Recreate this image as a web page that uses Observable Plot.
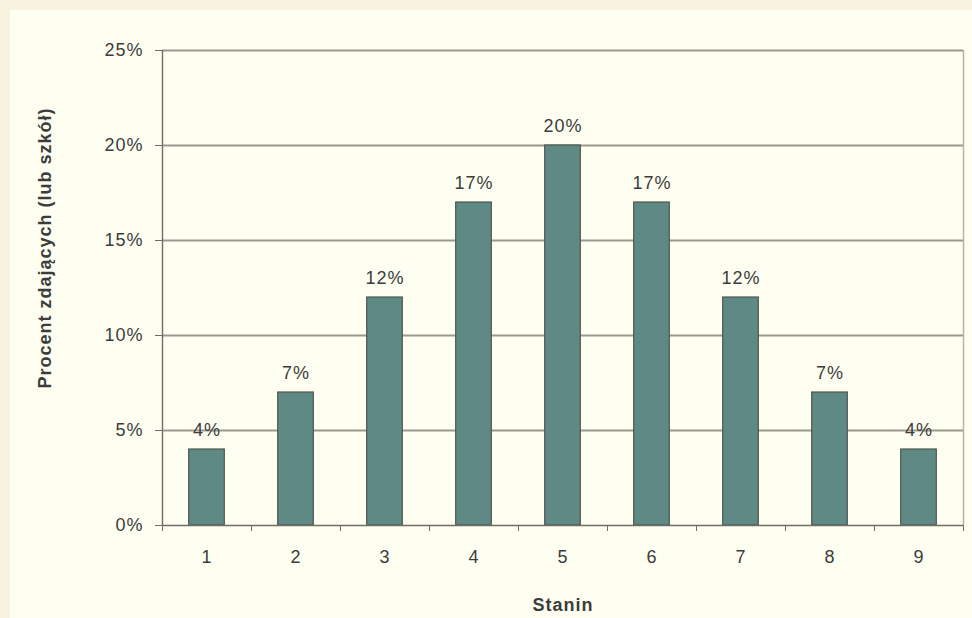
<!DOCTYPE html>
<html>
<head>
<meta charset="utf-8">
<script src="https://cdn.jsdelivr.net/npm/d3@7"></script>
<script src="https://cdn.jsdelivr.net/npm/@observablehq/plot@0.6"></script>
<style>
  html, body { margin: 0; padding: 0; background: #f8f3df; }
  #panel { position: absolute; left: 10px; top: 10px; width: 962px; height: 608px; background: #fefff0; }
  svg { font-family: "Liberation Sans", Arial, sans-serif; }
  svg text { letter-spacing: 1px; }
</style>
</head>
<body>
<div id="panel"></div>
<script>
const stanins = [1, 2, 3, 4, 5, 6, 7, 8, 9];
const percents = [4, 7, 12, 17, 20, 17, 12, 7, 4];
const yTicks = [0, 5, 10, 15, 20, 25];
const xBoundaries = [0.5, 1.5, 2.5, 3.5, 4.5, 5.5, 6.5, 7.5, 8.5, 9.5];
const xTitle = "Stanin";
const yTitle = "Procent zdających (lub szkół)";

const data = stanins.map((s, i) => ({stanin: s, pct: percents[i]}));
const halfBar = 0.2;
const textColor = "#3c3c3c";
const axisColor = "#6e6e64";

const chart = Plot.plot({
  width: 962,
  height: 608,
  marginLeft: 152,
  marginRight: 9,
  marginTop: 40,
  marginBottom: 93,
  style: { background: "transparent", fontSize: "18px", color: textColor },
  x: { domain: [0.5, 9.5] },
  y: { domain: [0, 25] },
  marks: [
    Plot.ruleY(yTicks.filter(t => t > 0), { stroke: "#9a9a8c", strokeWidth: 1.8 }),
    Plot.ruleX([9.5], { stroke: "#b0b0a4", strokeWidth: 1.4 }),
    Plot.rectY(data, {
      x1: d => d.stanin - halfBar,
      x2: d => d.stanin + halfBar,
      y: "pct",
      fill: "#5e8984",
      stroke: "#4f5650",
      strokeWidth: 1.2
    }),
    Plot.text(data, {
      x: "stanin",
      y: "pct",
      text: d => d.pct + "%",
      dy: -19,
      fontSize: 18,
      fill: textColor
    }),
    Plot.axisY({
      ticks: yTicks,
      tickFormat: d => d + "%",
      tickSize: 7,
      tickPadding: 12,
      stroke: axisColor,
      fill: textColor,
      label: null,
      fontSize: 18
    }),
    Plot.ruleX([0.5], { stroke: axisColor, strokeWidth: 1.4 }),
    Plot.ruleY([0], { stroke: axisColor, strokeWidth: 1.4 }),
    Plot.axisX({
      ticks: xBoundaries,
      tickSize: 6,
      tickFormat: () => "",
      stroke: axisColor,
      label: null
    }),
    Plot.axisX({
      ticks: stanins,
      tickSize: 0,
      tickPadding: 25,
      fill: textColor,
      fontSize: 18,
      label: null
    }),
    Plot.text([yTitle], {
      frameAnchor: "left",
      textAnchor: "middle",
      rotate: -90,
      dx: -117,
      dy: -40,
      fontSize: 18,
      fontWeight: "bold",
      fill: textColor
    }),
    Plot.text([xTitle], {
      frameAnchor: "bottom",
      dy: 85,
      fontSize: 18,
      fontWeight: "bold",
      fill: textColor
    })
  ]
});
document.getElementById("panel").appendChild(chart);
</script>
</body>
</html>
